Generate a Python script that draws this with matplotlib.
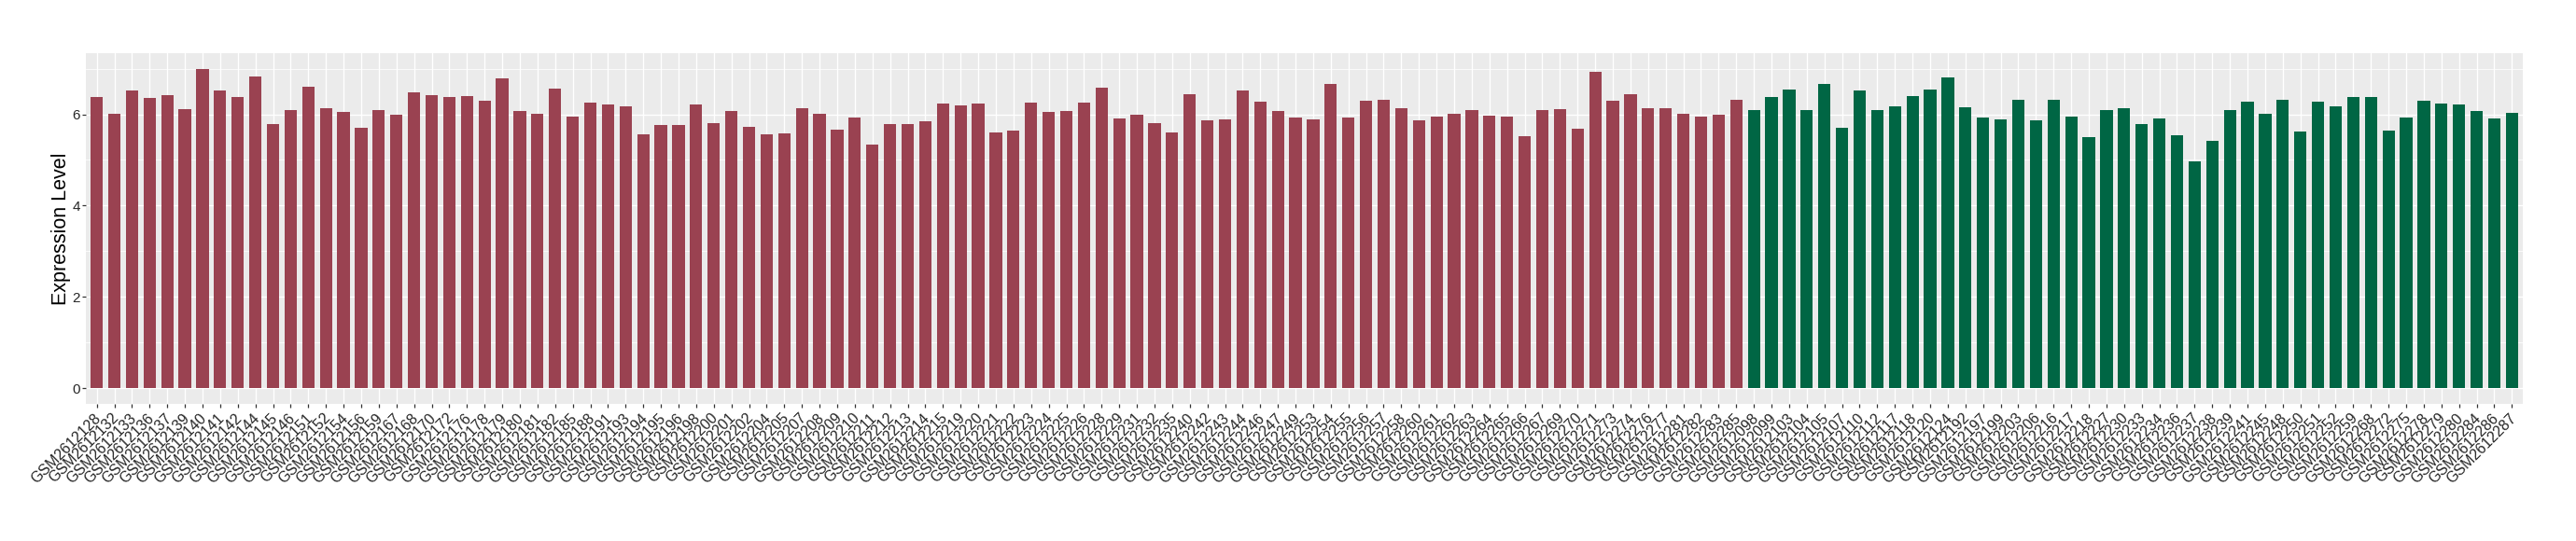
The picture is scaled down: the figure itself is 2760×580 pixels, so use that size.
import matplotlib
matplotlib.use("Agg")
import matplotlib.pyplot as plt
import matplotlib.transforms as mtransforms
import numpy as np

# ---- data ----
red_ids = [2128, 2132, 2133, 2136, 2137, 2139, 2140, 2141, 2142, 2144, 2145, 2146, 2151, 2152, 2154, 2156,
           2159, 2167, 2168, 2170, 2172, 2176, 2178, 2179, 2180, 2181, 2182, 2185, 2188, 2191, 2193, 2194,
           2195, 2196, 2198, 2200, 2201, 2202, 2204, 2205, 2207, 2208, 2209, 2210, 2211, 2212, 2213, 2214,
           2215, 2219, 2220, 2221, 2222, 2223, 2224, 2225, 2226, 2228, 2229, 2231, 2232, 2235, 2240, 2242,
           2243, 2244, 2246, 2247, 2249, 2253, 2254, 2255, 2256, 2257, 2258, 2260, 2261, 2262, 2263, 2264,
           2265, 2266, 2267, 2269, 2270, 2271, 2273, 2274, 2276, 2277, 2281, 2282, 2283, 2285]
red_values = [6.38, 6.01, 6.52, 6.36, 6.42, 6.11, 6.99, 6.52, 6.38, 6.83, 5.79, 6.10, 6.61, 6.13, 6.06, 5.70,
              6.10, 5.99, 6.49, 6.42, 6.38, 6.40, 6.30, 6.79, 6.08, 6.01, 6.56, 5.95, 6.26, 6.22, 6.18, 5.56,
              5.77, 5.77, 6.22, 5.81, 6.08, 5.73, 5.56, 5.58, 6.13, 6.01, 5.67, 5.93, 5.34, 5.79, 5.79, 5.85,
              6.24, 6.20, 6.24, 5.61, 5.65, 6.26, 6.06, 6.08, 6.26, 6.58, 5.91, 5.99, 5.81, 5.61, 6.44, 5.87,
              5.89, 6.52, 6.28, 6.08, 5.93, 5.89, 6.67, 5.93, 6.30, 6.32, 6.13, 5.87, 5.95, 6.01, 6.10, 5.97,
              5.95, 5.52, 6.10, 6.11, 5.68, 6.94, 6.30, 6.44, 6.13, 6.13, 6.01, 5.95, 5.99, 6.32]
green_ids = [2098, 2099, 2103, 2104, 2105, 2107, 2110, 2112, 2117, 2118, 2120, 2124, 2192, 2197, 2199, 2203,
             2206, 2216, 2217, 2218, 2227, 2230, 2233, 2234, 2236, 2237, 2238, 2239, 2241, 2245, 2248, 2250,
             2251, 2252, 2259, 2268, 2272, 2275, 2278, 2279, 2280, 2284, 2286, 2287]
green_values = [6.10, 6.38, 6.54, 6.10, 6.67, 5.70, 6.52, 6.10, 6.18, 6.40, 6.54, 6.81, 6.15, 5.93, 5.89, 6.32,
                5.87, 6.32, 5.95, 5.50, 6.10, 6.13, 5.79, 5.91, 5.54, 4.97, 5.42, 6.10, 6.28, 6.01, 6.32, 5.63,
                6.28, 6.18, 6.38, 6.38, 5.65, 5.93, 6.30, 6.24, 6.22, 6.08, 5.91, 6.04]
y_ticks = [0, 2, 4, 6]
y_label = "Expression Level"

labels = ["GSM261" + str(i) for i in red_ids] + ["GSM261" + str(i) for i in green_ids]
values = red_values + green_values
colors = ["#9A4251"] * len(red_values) + ["#006644"] * len(green_values)

plt.rcParams['font.family'] = ['Liberation Sans', 'DejaVu Sans']

W, H = 2760, 580
fig = plt.figure(figsize=(W / 100, H / 100), dpi=100)
left, right, top, bottom = 92.3, 2702.7, 56.5, 433.3
ax = fig.add_axes([left / W, 1 - bottom / H, (right - left) / W, (bottom - top) / H])

x = np.arange(len(values))
ax.set_facecolor("#EBEBEB")
for yv in [1, 3, 5, 7]:
    ax.axhline(yv, color="white", lw=0.55, zorder=0.5)
for yv in y_ticks:
    ax.axhline(yv, color="white", lw=1.0, zorder=0.6)
for xv in x:
    ax.axvline(xv, color="white", lw=1.0, zorder=0.6)

ax.bar(x, values, width=0.7, color=colors, zorder=2)

ax.set_xlim(-0.6, len(values) - 1 + 0.6)
ax.set_ylim(-0.35, 7.35)
ax.set_yticks(y_ticks)
ax.set_yticklabels([str(v) for v in y_ticks], fontsize=11, color="#262626")
ax.set_xticks(x)
ax.set_xticklabels(labels, rotation=45, ha="right", va="top", rotation_mode="anchor",
                   fontsize=11.5, color="#262626")
ax.tick_params(axis="both", length=2.9, width=0.9, color="#333333")
ax.tick_params(axis="y", pad=1.5)
ax.tick_params(axis="x", pad=2.2)
offset = mtransforms.ScaledTranslation(-3 / 100, 0, fig.dpi_scale_trans)
for lab in ax.get_xticklabels():
    lab.set_transform(lab.get_transform() + offset)
for s in ax.spines.values():
    s.set_visible(False)

fig.text(65 / W, 1 - ((top + bottom) / 2) / H, y_label, rotation=90, ha="center", va="center",
         fontsize=15.5, color="black")

fig.savefig("out.png", dpi=100, facecolor="white")
